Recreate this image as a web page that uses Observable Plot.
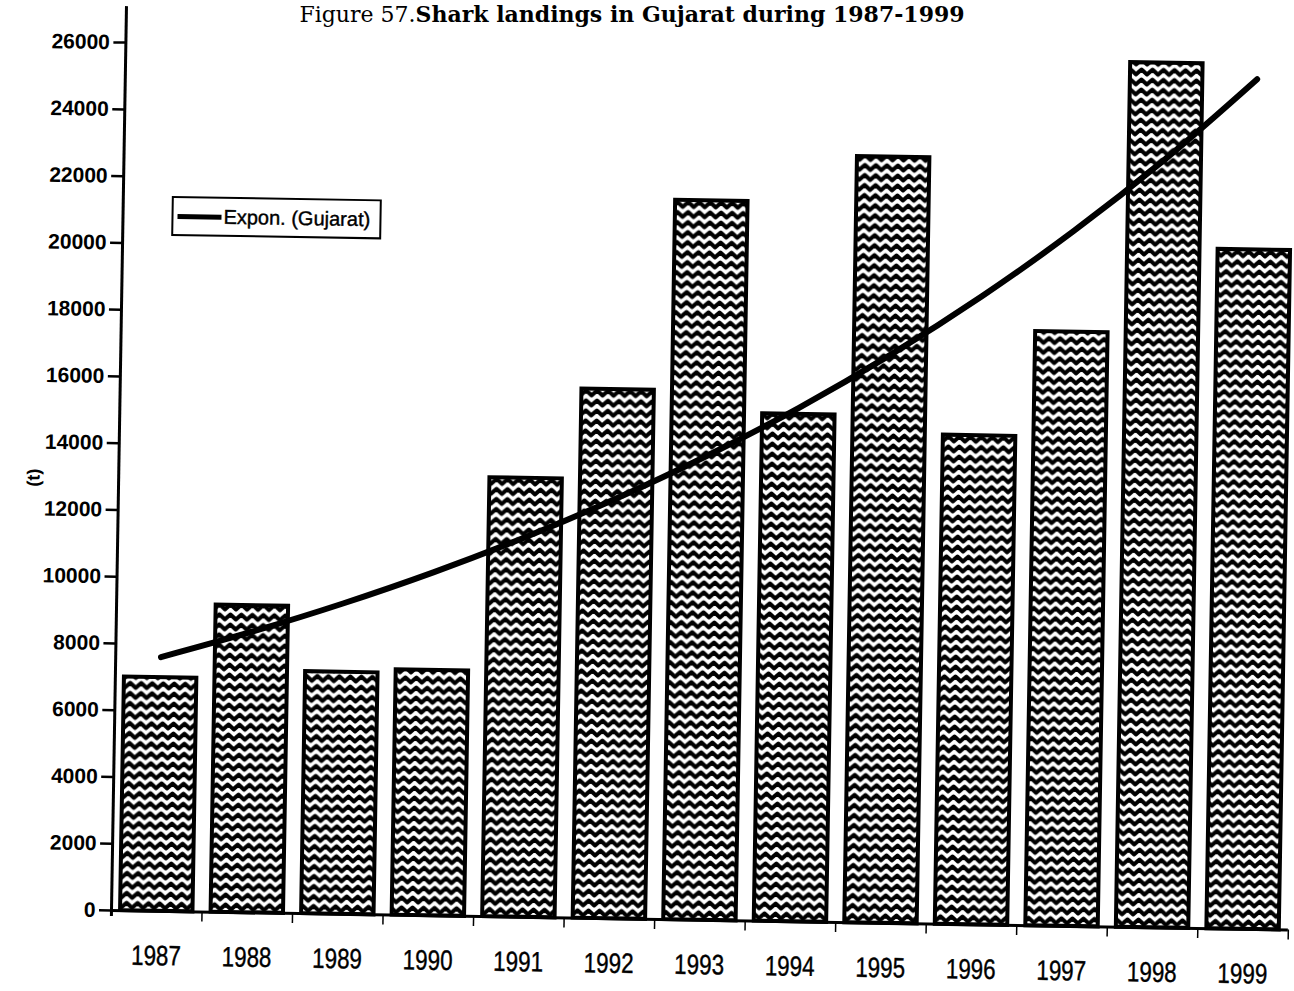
<!DOCTYPE html>
<html><head><meta charset="utf-8">
<script src="https://cdn.jsdelivr.net/npm/d3@7"></script>
<script src="https://cdn.jsdelivr.net/npm/@observablehq/plot@0.6"></script>
<style>
body{margin:0;background:#fff;}
#wrap{position:relative;width:1294px;height:991px;overflow:hidden;background:#fff;}
#title{position:absolute;left:0;width:1264px;top:1px;text-align:center;font-family:"DejaVu Serif",serif;font-size:22px;color:#000;z-index:2;white-space:nowrap;}
#chart{position:absolute;left:0;top:0;width:1294px;height:991px;transform:rotate(0.95deg);transform-origin:111px 910px;}
#legend{position:absolute;left:160px;top:195px;width:206px;height:36px;border:2px solid #000;background:#fff;display:flex;align-items:center;font-family:"Liberation Sans",Arial,sans-serif;font-size:20px;color:#000;box-sizing:content-box;white-space:nowrap;-webkit-text-stroke:0.4px #000;}
#legend .sw{display:inline-block;width:44px;height:5px;background:#000;margin-left:4px;margin-right:2px;}
#ylab{position:absolute;left:27px;top:479px;transform:translate(-50%,-50%) rotate(-90deg);font-family:"Liberation Sans",Arial,sans-serif;font-weight:bold;font-size:18px;color:#000;white-space:nowrap;}
</style></head>
<body>
<div id="wrap">
  <div id="title"><span>Figure 57.</span><b>Shark landings in Gujarat during 1987-1999</b></div>
  <div id="chart">
    <div id="plot"></div>
    <div id="ylab"></div>
    <div id="legend"><span class="sw"></span><span id="legtext"></span></div>
  </div>
</div>
<script>
// ---- data ----
const years = ["1987","1988","1989","1990","1991","1992","1993","1994","1995","1996","1997","1998","1999"];
const landings = [7000, 9200, 7250, 7350, 13150, 15850, 21550, 15200, 22950, 14650, 17800, 25900, 20350];
const yTicks = [0,2000,4000,6000,8000,10000,12000,14000,16000,18000,20000,22000,24000,26000];
const yLabel = "(t)";
const trendName = "Expon. (Gujarat)";

document.getElementById("ylab").textContent = yLabel;
document.getElementById("legtext").textContent = trendName;

const data = years.map((year, i) => ({year, value: landings[i]}));

// Exponential trendline (least squares on log values, as a spreadsheet does)
const xs = landings.map((_, i) => i);
const ls = landings.map(v => Math.log(v));
const mx = d3.mean(xs), ml = d3.mean(ls);
const b = d3.sum(xs, (x, i) => (x - mx) * (ls[i] - ml)) / d3.sum(xs, x => (x - mx) ** 2);
const a = ml - b * mx;
const trend = years.map((year, i) => ({year, value: Math.exp(a + b * i)}));

// ---- layout ----
const W = 1294, H = 991, mL = 111, mR = 6, mT = 6, mB = 81;
const pIn = 0.2, pOut = 0.1;
const step = (W - mL - mR) / (years.length - pIn + 2 * pOut);
const offEnd = step * (pOut + (1 - pIn) / 2);
const first = years[0], last = years[years.length - 1];

const plot = Plot.plot({
  width: W, height: H,
  marginLeft: mL, marginRight: mR, marginTop: mT, marginBottom: mB,
  style: {fontFamily: '"Liberation Sans",Arial,sans-serif', background: "transparent", color: "#000"},
  x: {domain: years, paddingInner: pIn, paddingOuter: pOut, align: 0.5, round: false},
  y: {domain: [0, 26000], range: [H - mB, 42]},
  marks: [
    Plot.barY(data, {x: "year", y: "value", fill: "url(#zz)", stroke: "#000", strokeWidth: 4}),
    Plot.ruleY([0], {stroke: "#000", strokeWidth: 3}),
    Plot.ruleX(years.slice(1), {x: d => d, y1: 0, y2: 0, insetTop: 10, dx: -step / 2, stroke: "#000", strokeWidth: 1.5}),
    Plot.ruleX([last], {x: d => d, y1: 0, y2: 0, insetTop: 10, dx: offEnd, stroke: "#000", strokeWidth: 1.5}),
    Plot.ruleX([first], {x: d => d, dx: -offEnd, insetBottom: -6, stroke: "#000", strokeWidth: 3}),
    Plot.line(trend, {x: "year", y: "value", curve: "catmull-rom", stroke: "#000", strokeWidth: 6}),
    Plot.axisY(yTicks, {tickSize: 12, tickPadding: 4, strokeWidth: 2.5, fontSize: 21, fontWeight: "bold",
      label: null, tickFormat: d => String(d)}),
    Plot.axisX({tickSize: 0, tickPadding: 34, fontSize: 28, label: null})
  ]
});

const svg = d3.select(plot);
const defs = svg.insert("defs", ":first-child");
const pat = defs.append("pattern").attr("id", "zz").attr("patternUnits", "userSpaceOnUse")
  .attr("width", 11).attr("height", 10);
pat.append("rect").attr("width", 11).attr("height", 10).attr("fill", "#fff");
pat.append("path").attr("d", "M-5.5,2.5 L0,7.5 L5.5,2.5 L11,7.5 L16.5,2.5")
  .attr("fill", "none").attr("stroke", "#000").attr("stroke-width", 4).attr("stroke-linejoin", "round");
svg.selectAll('[aria-label="x-axis tick label"] text').each(function() {
  const t = this.getAttribute("transform") || "";
  this.setAttribute("transform", t + " scale(0.8,1)");
  this.setAttribute("stroke", "#000");
  this.setAttribute("stroke-width", "0.4");
});
document.getElementById("plot").appendChild(plot);
</script>
</body></html>
